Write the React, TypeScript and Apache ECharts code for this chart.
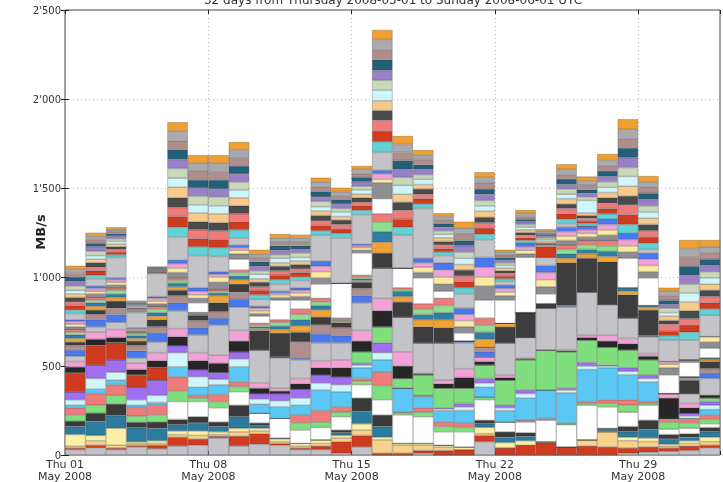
import React, { useEffect, useRef } from "react";
import * as echarts from "echarts";

const categories = [
  "2008-05-01", "2008-05-02", "2008-05-03", "2008-05-04", "2008-05-05", "2008-05-06", "2008-05-07", "2008-05-08",
  "2008-05-09", "2008-05-10", "2008-05-11", "2008-05-12", "2008-05-13", "2008-05-14", "2008-05-15", "2008-05-16",
  "2008-05-17", "2008-05-18", "2008-05-19", "2008-05-20", "2008-05-21", "2008-05-22", "2008-05-23", "2008-05-24",
  "2008-05-25", "2008-05-26", "2008-05-27", "2008-05-28", "2008-05-29", "2008-05-30", "2008-05-31", "2008-06-01",
];
const xTickLabels = ["Thu 01\nMay 2008", "Thu 08\nMay 2008", "Thu 15\nMay 2008", "Thu 22\nMay 2008", "Thu 29\nMay 2008"];
const yTickLabels = ["0", "500", "1'000", "1'500", "2'000", "2'500"];
const titleText = "32 days from Thursday 2008-05-01 to Sunday 2008-06-01 UTC";
const yAxisTitle = "MB/s";

// MB/s per day, stacked bottom to top
const baseGray = [30,40,30,45,35,50,55,95,50,60,55,30,30,10,45,0,0,10,0,0,75,0,0,0,0,0,0,10,15,20,25,40];
const redLow = [10,15,10,8,20,50,35,10,55,60,10,10,20,65,65,10,10,15,25,30,35,40,55,70,45,50,45,30,30,20,25,15];
const peachLow = [10,25,15,10,10,15,20,10,25,15,10,10,15,20,30,75,45,30,20,0,10,0,0,0,0,35,85,40,30,10,15,20];
const yellowLow = [65,30,95,10,15,20,25,15,20,15,15,15,20,15,35,15,10,10,10,15,35,30,25,5,0,0,0,20,20,10,15,25];
const tealA = [45,80,70,80,70,35,45,30,65,15,5,0,0,15,70,60,0,0,0,0,20,30,25,0,0,0,10,30,50,30,20,30];
const darkA = [30,45,65,30,35,30,35,25,65,15,0,0,0,15,75,65,0,0,0,0,20,30,20,0,0,0,10,30,50,25,20,25];
const whiteLow = [0,0,0,0,0,100,85,80,75,55,110,75,70,75,75,85,160,150,75,85,115,55,60,120,125,195,120,80,85,30,30,20];
const greenA = [35,45,50,35,40,60,20,35,30,0,0,40,30,25,20,80,10,25,30,25,15,0,5,5,5,10,20,40,10,40,30,25];
const salmonA = [40,65,60,50,55,80,15,40,25,0,0,45,65,30,15,75,5,25,25,25,0,0,5,5,5,10,20,30,10,20,25,25];
const lightBlue = [15,25,25,12,15,55,45,55,85,50,65,55,115,85,60,70,135,60,65,70,55,65,125,160,170,180,180,140,110,0,0,30];
const paleCyanA = [30,60,45,30,40,80,60,30,45,30,35,40,40,40,15,40,0,5,10,20,25,15,25,0,15,20,10,20,20,0,15,25];
const purpleA = [45,75,70,70,85,40,40,40,40,30,40,50,45,45,10,55,0,5,5,20,25,15,20,0,10,20,5,20,20,0,15,20];
const greenBlock = [0,0,0,0,0,0,0,0,0,0,0,0,0,0,65,90,55,115,110,85,75,140,170,225,205,125,100,100,85,0,0,20];
const redBlock = [105,110,95,70,70,0,0,0,0,0,0,0,0,0,0,0,0,0,0,0,0,0,0,0,0,0,0,0,0,0,0,0];
const blackA = [35,35,30,30,40,50,50,50,60,30,15,30,40,50,60,90,70,5,25,60,20,15,5,0,5,15,35,35,20,115,30,15];
const pinkA = [30,40,45,35,45,45,45,45,60,30,15,30,40,45,60,70,80,5,20,50,25,15,5,0,5,15,35,30,15,25,25,0];
const grayBlock = [30,30,40,30,60,100,100,170,130,185,170,105,100,95,155,170,195,170,210,145,0,180,115,235,240,240,170,115,95,0,55,95];
const blueA = [35,40,45,40,50,45,40,40,45,0,5,10,50,40,40,0,0,0,0,10,30,0,0,0,5,0,0,0,0,0,0,30];
const mauveA = [25,30,35,30,35,40,40,35,40,0,0,90,50,45,40,0,0,0,0,0,25,0,0,0,5,0,0,0,5,0,0,25];
const darkBlock = [20,25,40,25,40,30,30,50,45,110,135,55,45,30,35,85,85,90,85,0,0,90,140,25,240,190,240,130,145,0,75,40];
const orangeB = [20,20,20,15,20,20,5,40,25,10,20,35,40,10,10,60,30,40,45,0,45,20,0,0,25,25,30,20,15,0,10,10];
const tealB = [20,20,20,15,20,20,5,15,20,10,20,35,25,5,10,60,30,30,40,0,40,0,0,0,25,25,30,20,10,0,10,10];
const greenB = [15,15,20,10,20,15,5,10,20,10,20,30,20,5,10,55,10,30,40,0,40,0,0,0,25,25,30,0,0,0,0,0];
const salmonB = [15,15,15,10,15,15,0,10,15,10,15,30,20,5,10,45,10,30,40,0,40,0,0,0,25,25,30,0,0,0,0,0];
const whiteMid = [0,0,0,0,0,0,55,0,60,40,110,50,80,195,125,85,110,145,40,45,100,130,310,55,0,0,0,165,155,105,80,55];
const midGrayC = [15,20,15,10,15,30,25,40,30,15,15,20,35,0,15,90,0,30,40,35,80,25,20,40,25,20,30,35,35,40,15,35];
const yellowC = [15,15,15,5,15,25,20,30,20,15,15,20,35,0,15,20,0,30,40,35,50,20,20,40,25,20,30,35,35,20,0,30];
const pinkC = [15,15,15,5,15,25,20,15,15,15,10,15,30,0,10,30,0,25,40,35,55,20,20,40,25,20,30,35,35,15,0,0];
const blueC = [10,15,10,5,10,20,20,15,15,10,10,15,30,0,10,20,0,25,40,35,55,20,20,40,25,20,30,35,35,0,0,0];
const grayUpper = [35,40,115,85,130,130,180,85,40,40,40,40,145,255,165,100,185,280,40,80,100,20,0,45,20,0,0,0,20,120,110,120];
const top1 = [20,20,15,6,3,55,50,50,45,25,25,20,25,25,25,60,45,25,20,35,30,15,15,0,25,15,30,50,35,25,45,35];
const top2 = [25,25,15,6,3,60,45,45,45,25,25,25,30,25,25,60,45,30,20,35,35,15,15,60,30,15,30,55,35,25,40,35];
const top3 = [20,20,15,6,3,50,50,50,45,20,25,20,25,25,20,60,50,25,20,30,30,15,15,10,30,15,30,55,35,40,35,35];
const top4 = [25,25,15,6,4,55,45,45,45,25,25,25,30,25,25,55,45,30,20,35,30,15,15,10,25,15,30,50,35,20,45,35];
const top5 = [20,20,15,5,3,60,50,50,45,20,20,20,25,20,20,55,45,25,20,30,35,15,15,10,30,15,30,55,35,25,50,35];
const top6 = [20,20,15,6,3,50,45,45,44,25,25,20,25,25,25,60,50,30,20,35,30,15,15,10,25,70,30,55,35,20,50,35];
const top7 = [25,25,15,5,3,55,50,50,45,20,20,25,30,20,20,55,45,25,20,35,30,15,15,10,30,20,30,50,35,25,50,35];
const top8 = [25,25,15,6,4,50,45,45,45,25,25,20,25,25,25,55,45,30,20,35,35,15,15,10,25,20,30,55,35,20,50,35];
const top9 = [25,20,15,6,3,55,45,50,45,25,25,20,30,25,25,60,50,25,20,30,30,15,15,10,30,20,30,55,35,25,50,35];
const top10 = [20,20,12,5,3,50,50,45,45,20,20,20,25,20,20,55,45,30,20,35,35,15,15,10,25,25,30,50,35,25,50,35];
const top11 = [25,20,12,5,3,55,45,50,45,25,25,25,30,25,25,60,45,25,20,35,30,15,18,10,30,25,30,55,30,25,50,35];
const top12 = [18,19,10,5,3,49,44,44,44,23,22,18,23,22,19,53,47,28,18,36,28,13,18,8,28,24,36,56,32,20,48,38];

const layers: [string, string, number[]][] = [
  ["baseGray", "#c2c2c8", baseGray],
  ["redLow", "#d03a1f", redLow],
  ["peachLow", "#f8d28c", peachLow],
  ["yellowLow", "#fcf0a6", yellowLow],
  ["tealA", "#2b7b9e", tealA],
  ["darkA", "#3a3a3a", darkA],
  ["whiteLow", "#ffffff", whiteLow],
  ["greenA", "#7fdf7f", greenA],
  ["salmonA", "#ef7b7b", salmonA],
  ["lightBlue", "#5bc7f5", lightBlue],
  ["paleCyanA", "#cff6fb", paleCyanA],
  ["purpleA", "#a06ef0", purpleA],
  ["greenBlock", "#7fdf7f", greenBlock],
  ["redBlock", "#d03a1f", redBlock],
  ["blackA", "#262626", blackA],
  ["pinkA", "#f2a2d6", pinkA],
  ["grayBlock", "#c4c4c8", grayBlock],
  ["blueA", "#4a78ee", blueA],
  ["mauveA", "#b08e8e", mauveA],
  ["darkBlock", "#3d3d3d", darkBlock],
  ["orangeB", "#f2a230", orangeB],
  ["tealB", "#2f7fa5", tealB],
  ["greenB", "#8ee08e", greenB],
  ["salmonB", "#ef7b7b", salmonB],
  ["whiteMid", "#ffffff", whiteMid],
  ["midGrayC", "#8e8e92", midGrayC],
  ["yellowC", "#fbeaa0", yellowC],
  ["pinkC", "#f2a2d6", pinkC],
  ["blueC", "#4a78ee", blueC],
  ["grayUpper", "#c4c4c8", grayUpper],
  ["top1", "#62d2d6", top1],
  ["top2", "#d03a1f", top2],
  ["top3", "#ef7b7b", top3],
  ["top4", "#4a4a4a", top4],
  ["top5", "#f7c98a", top5],
  ["top6", "#cff6fb", top6],
  ["top7", "#c8d8b8", top7],
  ["top8", "#9a80c8", top8],
  ["top9", "#245f78", top9],
  ["top10", "#b08e8e", top10],
  ["top11", "#a9a9ae", top11],
  ["top12", "#f0a030", top12],
];

const FONT = '"DejaVu Sans", sans-serif';

export default function App() {
  const ref = useRef<HTMLDivElement>(null);
  useEffect(() => {
    if (!ref.current) return;
    const chart = echarts.init(ref.current, null, { renderer: "svg" });
    const series = layers.map(([name, color, data]) => ({
      name,
      type: "bar",
      stack: "total",
      data,
      xAxisIndex: 0,
      yAxisIndex: 0,
      barCategoryGap: "0%",
      barGap: "0%",
      silent: true,
      itemStyle: { color, borderColor: "rgba(60,60,60,0.55)", borderWidth: 0.5 },
    }));
    chart.setOption({
      animation: false,
      grid: { left: 65, right: 3, top: 10, bottom: 27, show: true, borderColor: "#444", borderWidth: 1, backgroundColor: "transparent" },
      xAxis: [
        { type: "category", data: categories, show: false, boundaryGap: true },
        {
          type: "value", min: 0, max: 32, interval: 7, position: "bottom",
          axisLine: { show: false },
          axisTick: { show: true, inside: true, length: 4, lineStyle: { color: "#222" } },
          splitLine: { show: true, showMinLine: false, showMaxLine: false, lineStyle: { color: "#bdbdbd", type: [1, 3], width: 1 } },
          axisLabel: {
            color: "#333", fontFamily: FONT, fontSize: 11, lineHeight: 12, margin: 3,
            formatter: (v: number) => (v % 7 === 0 && v < 32 ? xTickLabels[v / 7] : ""),
          },
        },
        {
          type: "value", min: 0, max: 32, interval: 7, position: "top",
          axisLine: { show: false },
          axisTick: { show: true, inside: true, length: 4, lineStyle: { color: "#222" } },
          axisLabel: { show: false }, splitLine: { show: false },
        },
      ],
      yAxis: [
        {
          type: "value", min: 0, max: 2500, interval: 500,
          axisLine: { show: false },
          axisTick: { show: true, inside: true, length: 4, lineStyle: { color: "#222" } },
          splitLine: { show: true, showMinLine: false, showMaxLine: false, lineStyle: { color: "#bdbdbd", type: [1, 3], width: 1 } },
          axisLabel: {
            color: "#333", fontFamily: FONT, fontSize: 10, margin: 4,
            formatter: (v: number) => yTickLabels[Math.round(v / 500)] ?? "",
          },
        },
        {
          type: "value", min: 0, max: 2500, interval: 500, position: "right",
          axisLine: { show: false },
          axisTick: { show: true, inside: true, length: 4, lineStyle: { color: "#222" } },
          axisLabel: { show: false }, splitLine: { show: false },
        },
      ],
      series,
      graphic: [
        {
          type: "text", x: 393, y: 6,
          style: { text: titleText, font: `12px ${FONT}`, fill: "#333", align: "center", verticalAlign: "bottom" },
        },
        {
          type: "text", x: 40, y: 232, rotation: Math.PI / 2,
          style: { text: yAxisTitle, font: `bold 13px ${FONT}`, fill: "#222", align: "center", verticalAlign: "middle" },
        },
      ],
    });
    return () => chart.dispose();
  }, []);
  return <div ref={ref} style={{ position: "fixed", left: 0, top: 0, width: 723, height: 482 }} />;
}
